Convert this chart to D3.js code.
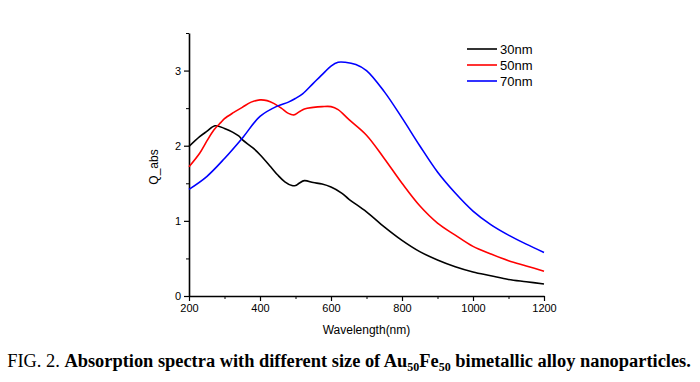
<!DOCTYPE html>
<html>
<head>
<meta charset="utf-8">
<script src="https://cdn.jsdelivr.net/npm/d3@7"></script>
<style>
	body { margin: 0; background: #fff; }
	svg text { font-family: "Liberation Sans", Arial, sans-serif; }
</style>
</head>
<body>
<div id="chart"></div>
<script>
// wavelength samples (nm) per series
var wl30 = [200, 230, 250, 273, 300, 340, 350, 380, 400, 430, 450, 470, 490, 500, 510, 525, 550, 575, 600, 630, 650, 700, 750, 800, 850, 900, 950, 1000, 1050, 1100, 1150, 1200];
var q30 = [1.99, 2.12, 2.19, 2.265, 2.23, 2.13, 2.08, 1.97, 1.88, 1.72, 1.61, 1.52, 1.47, 1.47, 1.50, 1.535, 1.51, 1.49, 1.45, 1.37, 1.29, 1.12, 0.92, 0.74, 0.59, 0.48, 0.39, 0.32, 0.27, 0.22, 0.19, 0.16];

var wl50 = [200, 230, 250, 270, 290, 300, 325, 350, 375, 400, 420, 440, 460, 480, 495, 510, 525, 550, 575, 600, 620, 650, 700, 750, 800, 850, 900, 950, 1000, 1050, 1100, 1150, 1200];
var q50 = [1.72, 1.90, 2.06, 2.21, 2.31, 2.36, 2.44, 2.51, 2.58, 2.61, 2.60, 2.56, 2.50, 2.43, 2.41, 2.45, 2.49, 2.51, 2.52, 2.52, 2.48, 2.35, 2.14, 1.83, 1.50, 1.20, 0.97, 0.81, 0.66, 0.56, 0.47, 0.40, 0.33];

var wl70 = [200, 250, 300, 350, 400, 450, 480, 500, 520, 550, 580, 600, 620, 640, 670, 700, 750, 800, 850, 900, 950, 1000, 1050, 1100, 1150, 1200];
var q70 = [1.42, 1.59, 1.83, 2.10, 2.39, 2.53, 2.58, 2.63, 2.69, 2.83, 2.97, 3.06, 3.11, 3.11, 3.08, 3.00, 2.72, 2.37, 2.00, 1.65, 1.37, 1.13, 0.95, 0.81, 0.69, 0.58];

var seriesNames = ["30nm", "50nm", "70nm"];
var seriesColors = ["#000000", "#ff0000", "#0000ff"];
var xTicks = [200, 400, 600, 800, 1000, 1200];
var yTicks = [0, 1, 2, 3];

var width = 700, height = 382;
var margin = { top: 33, right: 156, bottom: 86, left: 189 };
var plotW = width - margin.left - margin.right;
var plotH = height - margin.top - margin.bottom;

var svg = d3.select("#chart").append("svg")
	.attr("width", width)
	.attr("height", height);

var g = svg.append("g")
	.attr("transform", "translate(" + margin.left + "," + margin.top + ")");

var x = d3.scaleLinear().domain([200, 1200]).range([0, plotW]);
var y = d3.scaleLinear().domain([0, 3.5]).range([plotH, 0]);

// minor ticks first
g.append("g")
	.attr("transform", "translate(0," + plotH + ")")
	.call(d3.axisBottom(x).tickValues(d3.range(300, 1200, 200)).tickSize(3).tickFormat(""))
	.call(function (a) { a.select(".domain").remove(); });
g.append("g")
	.call(d3.axisLeft(y).tickValues([0.5, 1.5, 2.5, 3.5]).tickSize(3).tickFormat(""))
	.call(function (a) { a.select(".domain").remove(); });

var xAxis = g.append("g")
	.attr("transform", "translate(0," + plotH + ")")
	.call(d3.axisBottom(x).tickValues(xTicks).tickFormat(d3.format("d")).tickSize(5).tickSizeOuter(0).tickPadding(3));
var yAxis = g.append("g")
	.call(d3.axisLeft(y).tickValues(yTicks).tickFormat(d3.format("d")).tickSize(5).tickSizeOuter(0).tickPadding(3));

[xAxis, yAxis].forEach(function (a) {
	a.selectAll("text").style("font-size", "11px").attr("fill", "#000");
	a.selectAll("line").attr("stroke", "#000").attr("stroke-width", 1.2);
	a.select(".domain").attr("stroke", "#000").attr("stroke-width", 1.6);
});

var line = d3.line()
	.x(function (d) { return x(d[0]); })
	.y(function (d) { return y(d[1]); })
	.curve(d3.curveCatmullRom.alpha(0.5));

var allSeries = [d3.zip(wl30, q30), d3.zip(wl50, q50), d3.zip(wl70, q70)];

allSeries.forEach(function (s, i) {
	g.append("path")
		.datum(s)
		.attr("fill", "none")
		.attr("stroke", seriesColors[i])
		.attr("stroke-width", 1.6)
		.attr("d", line);
});

// legend
var legend = svg.append("g").attr("transform", "translate(467,49)");
seriesNames.forEach(function (name, i) {
	legend.append("line")
		.attr("x1", 0).attr("x2", 30)
		.attr("y1", i * 16).attr("y2", i * 16)
		.attr("stroke", seriesColors[i])
		.attr("stroke-width", 1.6);
	legend.append("text")
		.attr("x", 33).attr("y", i * 16 + 4.5)
		.style("font-size", "13px")
		.text(name);
});

// axis titles
svg.append("text")
	.attr("x", margin.left + plotW / 2)
	.attr("y", 334)
	.attr("text-anchor", "middle")
	.style("font-size", "12px")
	.text("Wavelength(nm)");

svg.append("text")
	.attr("transform", "translate(158,167) rotate(-90)")
	.attr("text-anchor", "middle")
	.style("font-size", "12px")
	.text("Q_abs");

// caption
var cap = svg.append("text")
	.attr("x", 349)
	.attr("y", 367)
	.attr("text-anchor", "middle")
	.style("font-size", "18.4px")
	.style("font-family", "'Liberation Serif', 'Times New Roman', serif");
cap.append("tspan").text("FIG. 2. ");
cap.append("tspan").style("font-weight", "bold").text("Absorption spectra with different size of Au");
cap.append("tspan").style("font-weight", "bold").style("font-size", "12px").attr("dy", 4).text("50");
cap.append("tspan").style("font-weight", "bold").attr("dy", -4).text("Fe");
cap.append("tspan").style("font-weight", "bold").style("font-size", "12px").attr("dy", 4).text("50");
cap.append("tspan").style("font-weight", "bold").attr("dy", -4).text(" bimetallic alloy nanoparticles.");
</script>
</body>
</html>
